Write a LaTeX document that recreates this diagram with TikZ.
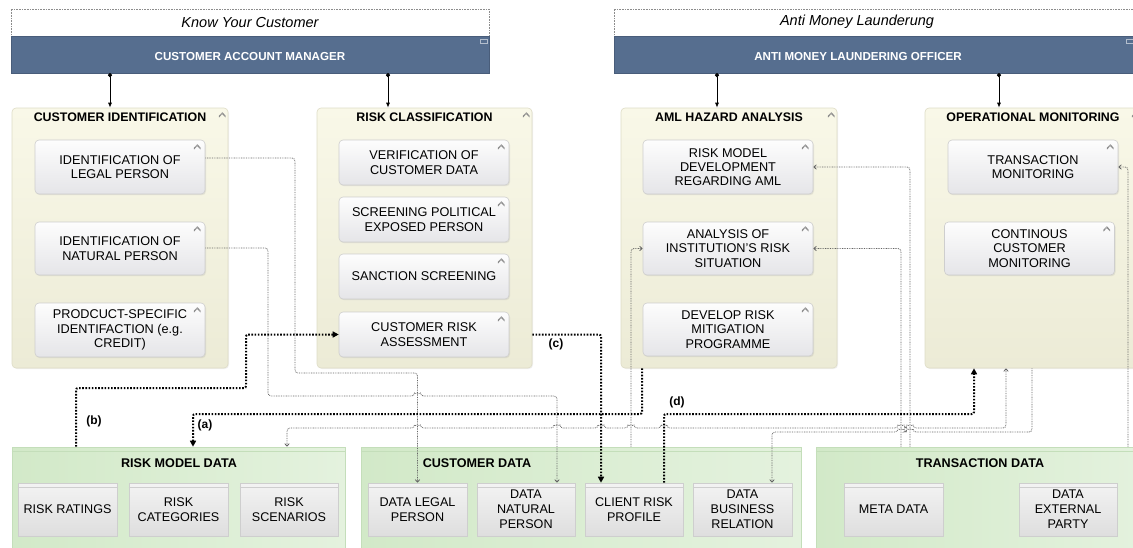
\documentclass[tikz,border=0pt]{standalone}
\usepackage{fontspec}
\setmainfont{Liberation Sans}
\usetikzlibrary{arrows.meta,calc,shadows}
\definecolor{barblue}{RGB}{86,110,143}
\definecolor{grpfillA}{RGB}{249,248,232}
\definecolor{grpfillB}{RGB}{236,235,214}
\definecolor{grpline}{RGB}{222,220,198}
\definecolor{boxA}{RGB}{253,253,253}
\definecolor{boxB}{RGB}{229,229,232}
\definecolor{boxline}{RGB}{206,206,206}
\definecolor{greenA}{RGB}{210,233,200}
\definecolor{greenB}{RGB}{228,242,222}
\definecolor{greenline}{RGB}{196,222,186}
\definecolor{dboxA}{RGB}{243,243,243}
\definecolor{dboxB}{RGB}{222,222,222}
\definecolor{thinline}{RGB}{100,100,100}
\newcommand\fs[2]{\fontsize{#1}{#2}\selectfont}
\newcommand\mystrip[1]{\draw[boxline, line width=0.5pt] ($(#1.north west)+(0,5)$) -- ($(#1.north east)+(0,5)$);}
\tikzset{
  hdrframe/.style={draw=black!45, dash pattern=on 0.8pt off 0.8pt, line width=0.6pt, fill=white, inner sep=0pt},
  hdrbar/.style={fill=barblue, draw=barblue!85!black, line width=0.3pt, inner sep=0pt},
  hdrtext/.style={text=white, font=\bfseries\fs{11.6}{14}},
  frametext/.style={font=\itshape\fs{14.5}{17}},
  grp/.style={rounded corners=4pt, draw=grpline, top color=grpfillA, bottom color=grpfillB, line width=0.6pt, inner sep=0pt,
    drop shadow={shadow xshift=1pt, shadow yshift=-1pt, opacity=0.12}},
  grptitle/.style={font=\bfseries\fs{12.4}{14}},
  ibox/.style={rounded corners=4pt, draw=boxline, line width=0.6pt, top color=boxA, bottom color=boxB, align=center,
    font=\fs{12.7}{14.3}, inner sep=0pt, minimum width=170pt,
    drop shadow={shadow xshift=1pt, shadow yshift=-1.2pt, opacity=0.15}},
  dgrp/.style={draw=greenline, left color=greenA, right color=greenB, line width=0.6pt, inner sep=0pt},
  dtitle/.style={font=\bfseries\fs{12.6}{14}},
  dbox/.style={draw=boxline, top color=dboxA, bottom color=dboxB, align=center, font=\fs{12.6}{15}, inner sep=0pt, minimum height=53pt,
    line width=0.6pt},
  tree/.style={line width=0.8pt, {Circle[length=4pt]}-{Latex[length=5pt,width=4pt]}},
  thinc/.style={draw=thinline, line width=0.8pt, dash pattern=on 0.8pt off 0.9pt, rounded corners=3pt,
    -{Straight Barb[length=2.5pt,width=4.5pt]}},
  thickc/.style={draw=black, line width=2pt, dash pattern=on 1.6pt off 1.6pt, rounded corners=2pt,
    -{Triangle[length=6pt,width=6pt]}},
  conlabel/.style={font=\bfseries\fs{12}{14}},
  chev/.pic={\draw[black!45, line width=0.45pt, line join=round] (-3.2,1.2) -- (0,-2.2) -- (3.2,1.2) -- (3.2,2.4) -- (0,-0.9) -- (-3.2,2.4) -- cycle;}
}
\begin{document}
\begin{tikzpicture}[x=1pt,y=-1pt]
\useasboundingbox (0,0) rectangle (1133,547);

% ---------- header: Know Your Customer ----------
\node[hdrframe, frametext, minimum width=478pt, minimum height=27pt] (kycF) at (250,22.5) {Know Your Customer};
\node[hdrbar, minimum width=478pt, minimum height=37pt] (cam) at (250,54.5) {};
\node[hdrtext] (camT) at (250,57) {CUSTOMER ACCOUNT MANAGER};
\draw[white!55!barblue, line width=0.5pt] (480,39.5) rectangle (487,43.5);

% ---------- header: Anti Money Launderung ----------
\node[hdrframe, frametext, minimum width=530pt, minimum height=27pt] (amlF) at (879,22.5) {};
\node[frametext] (amlFT) at (857,22) {Anti Money Launderung};
\node[hdrbar, minimum width=530pt, minimum height=37pt] (amlo) at (879,54.5) {};
\node[hdrtext] (amloT) at (858,57) {ANTI MONEY LAUNDERING OFFICER};
\draw[white!55!barblue, line width=0.5pt] (1126,39.5) rectangle (1133,43.5);

% ---------- process groups ----------
\node[grp, minimum width=216pt, minimum height=260pt] (ciG) at (120,238) {};
\node[grptitle] (ciT) at ($(ciG.north)+(0,10)$) {CUSTOMER IDENTIFICATION};
\node[grp, minimum width=215pt, minimum height=260pt] (rcG) at (424.5,238) {};
\node[grptitle] (rcT) at ($(rcG.north)+(0,10)$) {RISK CLASSIFICATION};
\node[grp, minimum width=216pt, minimum height=260pt] (amlG) at (729,238) {};
\node[grptitle] (amlT) at ($(amlG.north)+(0,10)$) {AML HAZARD ANALYSIS};
\node[grp, minimum width=216pt, minimum height=260pt] (omG) at (1033,238) {};
\node[grptitle] (omT) at ($(omG.north)+(0,10)$) {OPERATIONAL MONITORING};
\foreach \g in {ciG,rcG,amlG,omG}{\pic at ($(\g.north east)+(-6,7)$) {chev};}

% customer identification
\node[ibox, minimum height=54pt] (ci1) at (120,167) {IDENTIFICATION OF\\LEGAL PERSON};
\node[ibox, minimum height=53pt] (ci2) at (120,248.5) {IDENTIFICATION OF\\NATURAL PERSON};
\node[ibox, minimum height=54pt] (ci3) at (120,330) {PRODCUCT-SPECIFIC\\IDENTIFACTION (e.g.\\CREDIT)};
% risk classification
\node[ibox, minimum height=45pt] (rc1) at (424,162.5) {VERIFICATION OF\\CUSTOMER DATA};
\node[ibox, minimum height=45pt] (rc2) at (424,219.5) {SCREENING POLITICAL\\EXPOSED PERSON};
\node[ibox, minimum height=45pt] (rc3) at (424,276.5) {SANCTION SCREENING};
\node[ibox, minimum height=45pt] (rc4) at (424,334.5) {CUSTOMER RISK\\ASSESSMENT};
% AML hazard analysis
\node[ibox, minimum height=54pt] (aml1) at (728,167) {RISK MODEL\\DEVELOPMENT\\REGARDING AML};
\node[ibox, minimum height=53pt] (aml2) at (728,248.5) {ANALYSIS OF\\INSTITUTION'S RISK\\SITUATION};
\node[ibox, minimum height=53pt] (aml3) at (728,329.5) {DEVELOP RISK\\MITIGATION\\PROGRAMME};
% operational monitoring
\node[ibox, minimum height=54pt] (om1) at (1033,167) {TRANSACTION\\MONITORING};
\node[ibox, minimum height=53pt] (om2) at (1029.5,248.5) {CONTINOUS\\CUSTOMER\\MONITORING};
\foreach \b in {ci1,ci2,ci3,rc1,rc2,rc3,rc4,aml1,aml2,aml3,om1,om2}{\pic at ($(\b.north east)+(-8,7)$) {chev};}

% ---------- data groups ----------
\node[dgrp, minimum width=333pt, minimum height=106pt] (rmdG) at (178.5,500) {};
\node[dgrp, minimum width=440pt, minimum height=106pt] (cdG) at (581,500) {};
\node[dgrp, minimum width=330pt, minimum height=106pt] (tdG) at (981,500) {};
\foreach \g in {rmdG,cdG,tdG}{\draw[greenline, line width=0.6pt] ($(\g.north west)+(0,5)$) -- ($(\g.north east)+(0,5)$);}
\node[dtitle] (rmdT) at (179,463) {RISK MODEL DATA};
\node[dtitle] (cdT) at (477,463) {CUSTOMER DATA};
\node[dtitle] (tdT) at (980,463) {TRANSACTION DATA};

\node[dbox, minimum width=99pt] (rr) at (67.5,509.5) {RISK RATINGS};
\node[dbox, minimum width=99pt] (rcat) at (178.5,509.5) {RISK\\CATEGORIES};
\node[dbox, minimum width=98pt] (rs) at (289,509.5) {RISK\\SCENARIOS};
\node[dbox, minimum width=99pt] (dl) at (417.5,509.5) {DATA LEGAL\\PERSON};
\node[dbox, minimum width=98pt] (dn) at (526,509.5) {DATA\\NATURAL\\PERSON};
\node[dbox, minimum width=98pt] (crp) at (634,509.5) {CLIENT RISK\\PROFILE};
\node[dbox, minimum width=99pt] (dbr) at (742.5,509.5) {DATA\\BUSINESS\\RELATION};
\node[dbox, minimum width=99pt] (md) at (893.5,509.5) {META DATA};
\node[dbox, minimum width=98pt] (dep) at (1068,509.5) {DATA\\EXTERNAL\\PARTY};
\foreach \b in {rr,rcat,rs,dl,dn,crp,dbr,md,dep}{\mystrip{\b}}

% ---------- headers to groups ----------
\draw[tree] (cam.south -| 110,0) -- (ciG.north -| 110,0);
\draw[tree] (cam.south -| 388,0) -- (rcG.north -| 388,0);
\draw[tree] (amlo.south -| 717,0) -- (amlG.north -| 717,0);
\draw[tree] (amlo.south -| 999,0) -- (omG.north -| 999,0);

% ---------- thin dotted connectors ----------
\draw[thinc] (ci1.east |- 0,158) -| (295,373) -| (dl.north);
\draw[thinc] (ci2.east |- 0,248) -| (268,396) -- (414.5,396) arc[start angle=180,end angle=360,radius=3] -| (dn.north -| 557,0);
\draw[thinc] (cdG.north -| 631,0) |- (aml2.west);
\draw[thinc] (tdG.north -| 901,0) |- (aml2.east);
\draw[thinc] (tdG.north -| 910,0) |- (aml1.east);
\draw[thinc] (tdG.north -| 1128,0) |- (om1.east);
\draw[thinc, {Straight Barb[length=2.5pt,width=4.5pt]}-{Straight Barb[length=2.5pt,width=4.5pt]}]
  (rmdG.north -| 287,0) -- (287,428)
  -- (414.5,428) arc[start angle=180,end angle=360,radius=3]
  -- (554,428) arc[start angle=180,end angle=360,radius=3]
  -- (598,428) arc[start angle=180,end angle=360,radius=3]
  -- (628,428) arc[start angle=180,end angle=360,radius=3]
  -- (661,428) arc[start angle=180,end angle=360,radius=3]
  -- (898,428) arc[start angle=180,end angle=360,radius=3]
  -- (907,428) arc[start angle=180,end angle=360,radius=3]
  -- (1006,428) -- (omG.south -| 1006,0);
\draw[thinc] (omG.south -| 1032,0) -- (1032,432)
  -- (913,432) arc[start angle=0,end angle=-180,radius=3]
  -- (904,432) arc[start angle=0,end angle=-180,radius=3]
  -- (772,432) -- (dbr.north -| 772,0);

% ---------- thick dotted connectors ----------
\draw[thickc] (amlG.south -| 642,0) |- (193,414) -- (rmdG.north -| 193,0);
\draw[thickc] (rmdG.north -| 76,0) |- (246,388) |- (rc4.west);
\draw[thickc] (rcG.east |- rc4.east) -| (crp.north -| 601,0);
\draw[thickc] (crp.north -| 664,0) |- (974,414) -- (omG.south -| 974,0);

\node[conlabel] (la) at (205,425) {(a)};
\node[conlabel] (lb) at (94,421) {(b)};
\node[conlabel] (lc) at (556,344) {(c)};
\node[conlabel] (ld) at (677,402) {(d)};
\end{tikzpicture}
\end{document}
